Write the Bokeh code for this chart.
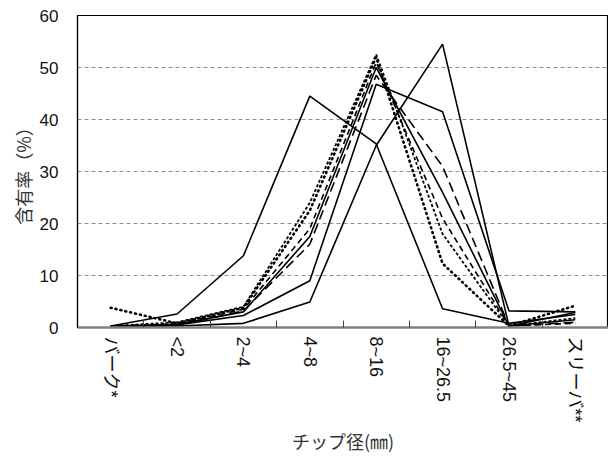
import math
from bokeh.plotting import figure
from bokeh.models import Range1d, FixedTicker, CustomJSTickFormatter, Spacer
from bokeh.layouts import row
from bokeh.embed import file_html
from bokeh.resources import INLINE

# ---- data ----
categories = ["バーク*", "<2", "2~4", "4~8", "8~16", "16~26.5", "26.5~45", "スリーバ**"]
y_ticks = [0, 10, 20, 30, 40, 50, 60]

series_a = [0.3, 2.6, 13.8, 44.5, 35.3, 3.6, 0.8, 2.5]
series_b = [0.2, 0.3, 0.8, 4.9, 35.0, 54.5, 0.3, 2.9]
series_c = [0.3, 0.5, 2.3, 9.0, 46.8, 41.5, 3.2, 3.0]
series_d = [0.2, 0.6, 3.0, 17.5, 50.0, 26.0, 0.3, 1.5]
series_e = [0.2, 0.4, 3.2, 16.0, 48.5, 31.0, 0.3, 1.0]
series_f = [0.3, 0.7, 3.5, 19.0, 51.0, 21.0, 0.3, 0.8]
series_g = [0.3, 1.0, 4.0, 24.0, 52.5, 18.0, 0.3, 1.8]
series_h = [3.8, 0.8, 3.8, 22.5, 52.0, 12.3, 0.3, 4.2]

all_series = [series_a, series_b, series_c, series_d, series_e, series_f, series_g, series_h]
# styles: (dash, width, cap)
styles = [
    ("solid", 1.6, "butt"),
    ("solid", 1.6, "butt"),
    ("solid", 1.6, "butt"),
    ("solid", 1.6, "butt"),
    ("10 5", 1.6, "butt"),
    ("6 4", 1.6, "butt"),
    ("3 2", 1.8, "butt"),
    ("1 4", 2.6, "round"),
]

xs = [i + 0.5 for i in range(len(categories))]
boundaries = [i for i in range(1, len(categories))]

p = figure(frame_width=531, frame_height=312, output_backend="svg", toolbar_location=None,
           x_range=Range1d(0, len(categories)), y_range=Range1d(0, 60),
           min_border_top=15, min_border_left=0, min_border_right=0, min_border_bottom=0)
p.background_fill_color = "white"
p.border_fill_color = "white"
p.outline_line_color = "black"
p.outline_line_width = 1.2

for vals, (dash, w, cap) in zip(all_series, styles):
    p.line(xs, vals, line_color="black", line_width=w, line_dash=dash, line_cap=cap)

# grid
p.xgrid.visible = False
p.ygrid.ticker = FixedTicker(ticks=y_ticks[1:-1])
p.ygrid.grid_line_color = "#909090"
p.ygrid.grid_line_dash = "4 3"
p.ygrid.grid_line_width = 1

# y axis
ya = p.yaxis[0]
ya.ticker = FixedTicker(ticks=y_ticks)
ya.major_tick_in = 0
ya.major_tick_out = 0
ya.minor_tick_line_color = None
ya.axis_line_color = "black"
ya.axis_line_width = 1.2
ya.major_label_text_font = "Liberation Sans"
ya.major_label_text_font_size = "17px"
ya.major_label_text_color = "#111111"
ya.major_label_standoff = 19
ya.axis_label = "含有率（%）"
ya.axis_label_text_font = "Noto Sans CJK JP"
ya.axis_label_text_font_size = "18px"
ya.axis_label_text_font_style = "normal"
ya.axis_label_text_color = "#333333"
ya.axis_label_standoff = 1

# x axis: category labels at centers, minor ticks at category boundaries
xa = p.xaxis[0]
xa.ticker = FixedTicker(ticks=xs, minor_ticks=boundaries)
xa.formatter = CustomJSTickFormatter(args=dict(labels=categories),
                                     code="return labels[Math.floor(tick)];")
xa.major_tick_in = 0
xa.major_tick_out = 0
xa.minor_tick_in = 7
xa.minor_tick_out = 0
xa.minor_tick_line_color = "#444444"
xa.minor_tick_line_width = 1
xa.axis_line_color = "#808080"
xa.axis_line_width = 2.5
xa.major_label_orientation = -math.pi / 2
xa.major_label_standoff = 9
xa.major_label_text_font = "Liberation Sans, 'Noto Sans CJK JP'"
xa.major_label_text_font_size = "18px"
xa.major_label_text_color = "#111111"
xa.axis_label = "チップ径(㎜)"
xa.axis_label_text_font = "Noto Sans CJK JP"
xa.axis_label_text_font_size = "18px"
xa.axis_label_text_font_style = "normal"
xa.axis_label_text_color = "#333333"
xa.axis_label_standoff = 2

layout = row(Spacer(width=6), p)

open("out.html", "w").write(file_html(layout, INLINE))
